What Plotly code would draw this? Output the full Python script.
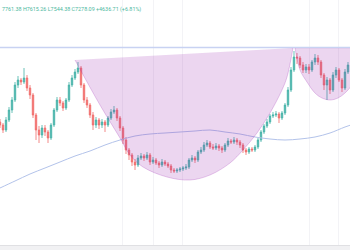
import plotly.graph_objects as go

# OHLC candles (price units), one per bar
open_ = [128,125,120,130,140,150,165,170,168,172,
         162,155,135,120,115,122,118,112,125,140,
         150,147,142,150,165,172,178,182,165,150,
         145,135,125,130,125,128,125,132,138,140,
         132,122,110,100,95,88,85,92,94,92,
         95,88,90,87,85,88,86,84,80,79,
         80,81,82,83,90,92,90,98,100,105,
         107,103,102,104,102,100,105,109,108,110,
         108,105,100,98,101,100,103,110,118,124,
         128,134,135,136,132,137,145,160,180,193,
         192,185,180,183,180,188,192,188,175,165,
         170,160,175,180,170,162,178]
high = [131,127,133,143,153,168,174,172,182,175,
        165,157,137,124,125,125,120,127,142,153,
        153,149,152,168,175,181,188,184,167,153,
        147,138,133,132,131,130,134,141,144,142,
        134,124,113,102,97,91,95,97,96,98,
        97,93,92,89,91,90,88,86,82,82,
        83,84,86,92,95,94,100,103,108,110,
        109,106,107,106,104,107,112,111,113,112,
        110,107,102,103,103,105,112,120,126,131,
        136,138,139,138,139,147,163,183,199,197,
        194,188,186,186,190,196,195,190,177,173,
        172,178,183,182,172,181,188]
low = [122,117,118,128,137,148,162,165,166,159,
       151,132,110,107,112,114,107,110,123,138,
       144,139,140,148,163,170,176,162,147,142,
       132,120,122,121,122,118,123,130,136,129,
       119,106,96,90,84,80,83,90,89,90,
       85,86,85,82,83,84,82,77,77,77,
       78,79,80,81,88,87,88,96,98,103,
       101,100,100,99,97,98,103,106,106,105,
       102,97,95,96,98,98,101,108,116,122,
       126,132,133,127,130,135,143,158,178,186,
       182,177,177,176,178,185,185,172,160,150,
       156,158,172,168,158,160,176]
close = [125,120,130,140,150,165,170,168,172,162,
         155,135,120,115,122,118,112,125,140,150,
         147,142,150,165,172,178,182,165,150,145,
         135,125,130,125,128,125,132,138,140,132,
         122,110,100,95,88,85,92,94,92,95,
         88,90,87,85,88,86,84,80,79,80,
         81,82,83,90,92,90,98,100,105,107,
         103,102,104,102,100,105,109,108,110,108,
         105,100,98,101,100,103,110,118,124,128,
         134,135,136,132,137,145,160,180,193,192,
         185,180,183,180,188,192,188,175,165,170,
         160,175,180,170,162,178,185]
bars = list(range(len(close)))

# moving average
ma_x = [0,5,10,15,20,25,30,35,40,45,50,55,60,65,70,75,80,85,90,95,100,105,110,115,118]
ma_y = [62,69,76,82,88,94,99,105,110,114,116,117,118,119,120,118,116,113,111,110,111,113,117,123,126]

# resistance level
resistance = 202.5

# cup arc drawing (bar, price)
cup_x = [25,33.33,40,43.33,47.67,55.67,63.33,70,76.67,81,85.67,90,94,95.67,97.67]
cup_y = [190,145,112,95,83,73,70,75,87,100,117,137,160,173,202]

# handle arc drawing (bar, price)
handle_x = [98.33,100,102.33,105,107.33,110,112.67,115,117.33,120,121.67]
handle_y = [202,180,168,157,152,150,152,157,165,180,202]

legend_text = "7761.38 H7615.26 L7544.38 C7278.09 +4636.71 (+6.81%)"

fig = go.Figure()
fig.add_trace(go.Scatter(x=ma_x, y=ma_y, mode="lines", line=dict(color="#b3c3ea", width=1, shape="spline"),
                         hoverinfo="skip", showlegend=False))
fig.add_trace(go.Candlestick(x=bars, open=open_, high=high, low=low, close=close,
                             increasing=dict(line=dict(color="#26a69a", width=0.8), fillcolor="#26a69a"),
                             decreasing=dict(line=dict(color="#ef5350", width=0.8), fillcolor="#ef5350"),
                             whiskerwidth=0, opacity=0.85, showlegend=False))
fig.add_trace(go.Scatter(x=[0, 116.67], y=[resistance, resistance], mode="lines",
                         line=dict(color="#c8d2f2", width=1.5), hoverinfo="skip", showlegend=False))
fig.add_trace(go.Scatter(x=cup_x, y=cup_y, mode="lines", fill="toself",
                         fillcolor="rgba(156,39,176,0.19)", line=dict(color="rgba(156,39,176,0.3)", width=0.8, shape="spline"),
                         hoverinfo="skip", showlegend=False))
fig.add_trace(go.Scatter(x=handle_x, y=handle_y, mode="lines", fill="toself",
                         fillcolor="rgba(156,39,176,0.19)", line=dict(color="rgba(156,39,176,0.3)", width=0.8, shape="spline"),
                         hoverinfo="skip", showlegend=False))

fig.add_annotation(x=0, y=0.963, xref="paper", yref="paper", text=legend_text, showarrow=False,
                   xanchor="left", yanchor="middle", font=dict(family="Roboto", size=5.4, color="#4cb89e"))

fig.update_layout(
    width=350, height=250,
    margin=dict(l=0, r=0, t=0, b=5),
    paper_bgcolor="#f1f1f3", plot_bgcolor="white",
    xaxis=dict(range=[0, 116.67], rangeslider=dict(visible=False), showticklabels=False,
               tickvals=[40.7, 51, 61, 103.3, 112.7], ticks="", showgrid=True, gridcolor="#f3f3f6",
               zeroline=False, showline=True, linecolor="#e0e0e3", linewidth=1),
    yaxis=dict(range=[5, 250], showticklabels=False, showgrid=False, zeroline=False, ticks=""),
)

fig.write_html("out.html")
